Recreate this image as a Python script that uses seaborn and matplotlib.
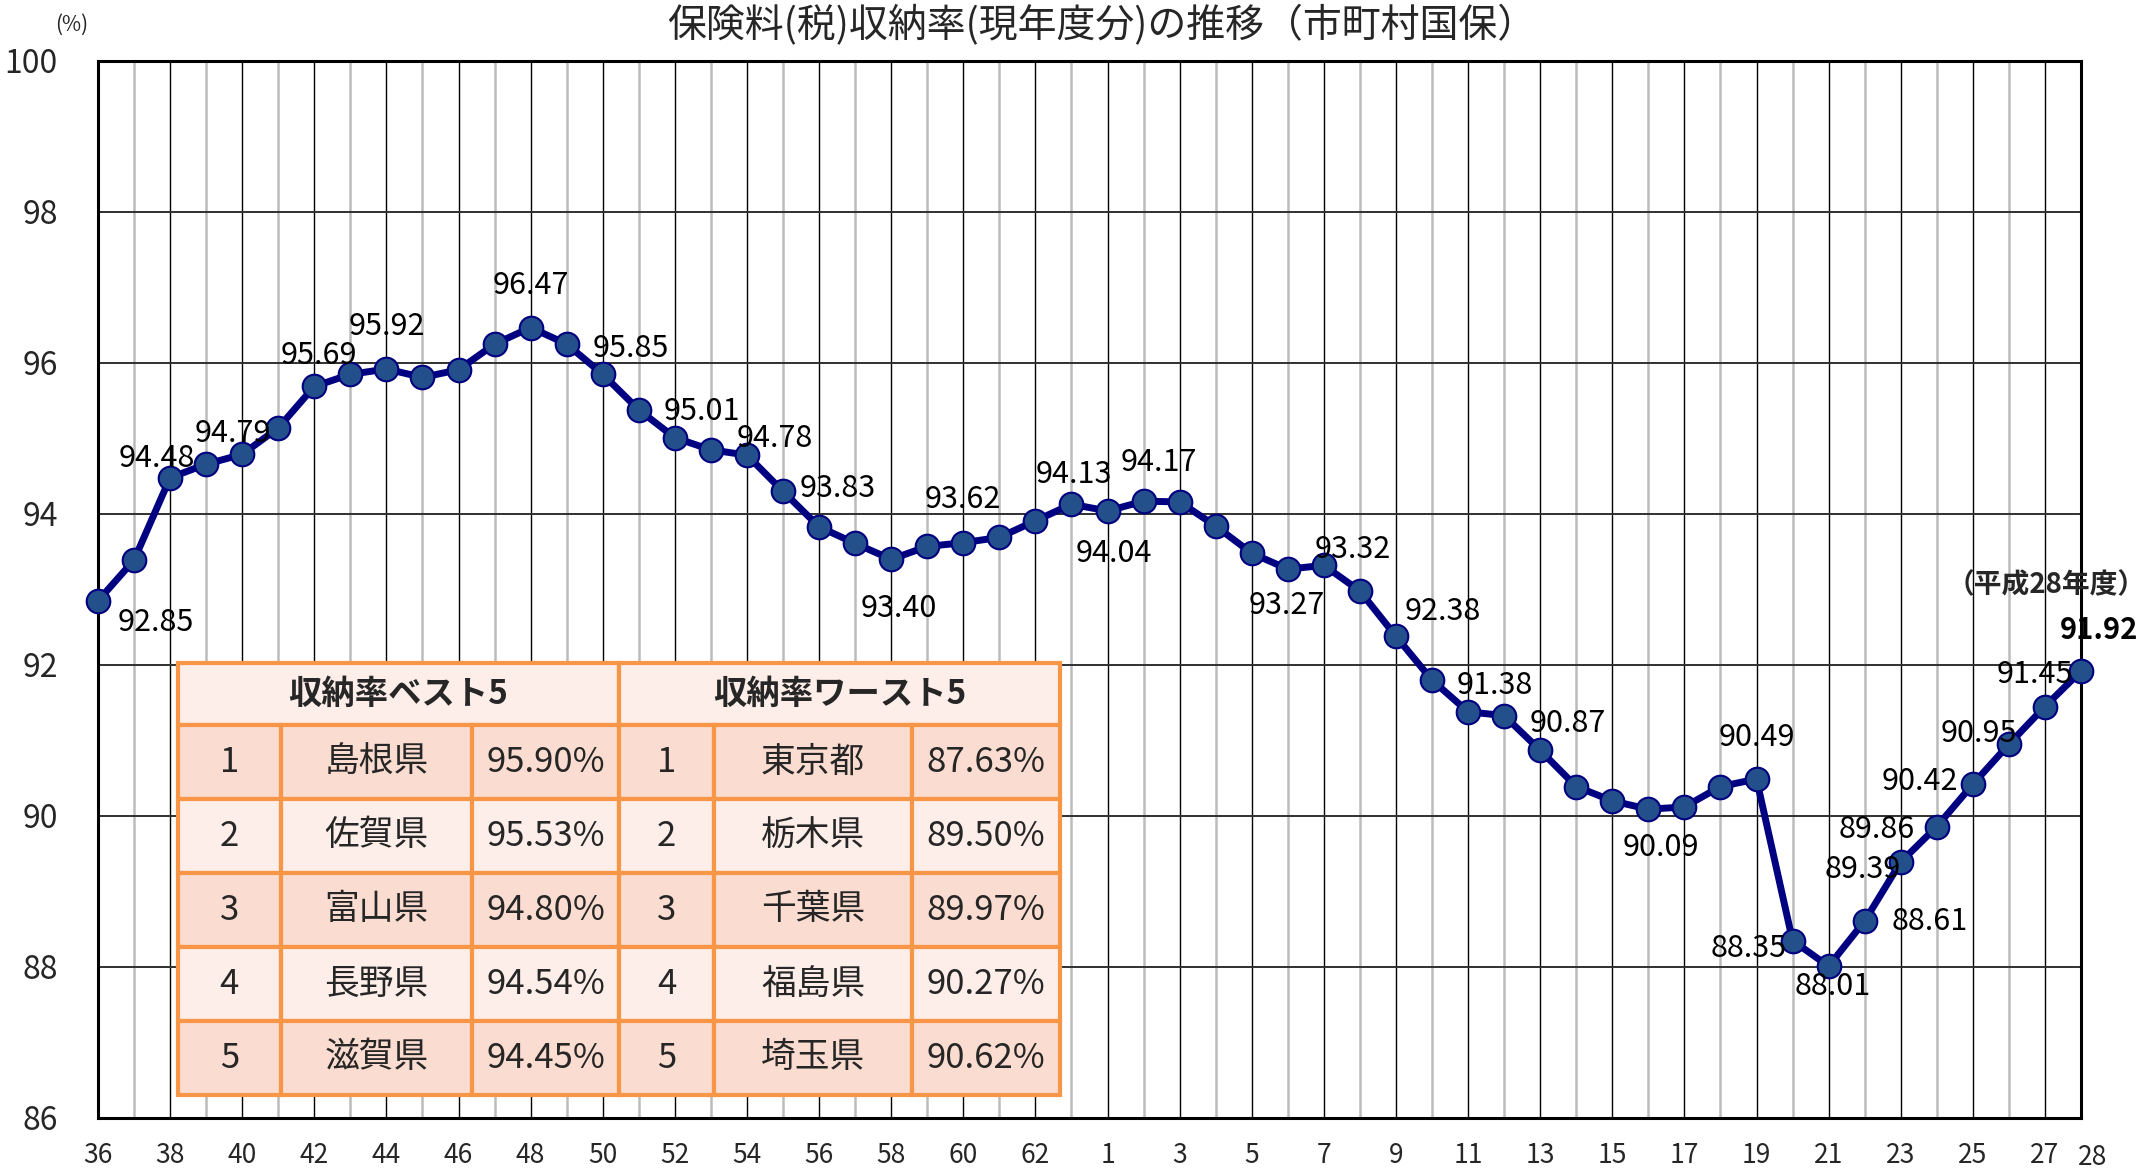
import matplotlib
matplotlib.use("Agg")
import matplotlib.pyplot as plt
import matplotlib.transforms as mtransforms
from matplotlib.patches import Rectangle
import seaborn as sns
import pandas as pd

# 昭和36年度〜63年度, 平成元年度〜28年度
showa_years = list(range(36, 64))
heisei_years = list(range(1, 29))
year_labels = [str(y) for y in showa_years + heisei_years]

# 収納率 (%)
rates = [
    92.85, 93.39, 94.48, 94.66, 94.79, 95.14, 95.69, 95.85, 95.92, 95.81,
    95.91, 96.25, 96.47, 96.25, 95.85, 95.38, 95.01, 94.85, 94.78, 94.30,
    93.83, 93.61, 93.40, 93.57, 93.62, 93.69, 93.91, 94.13, 94.04, 94.17,
    94.16, 93.84, 93.48, 93.27, 93.32, 92.98, 92.38, 91.80, 91.38, 91.33,
    90.87, 90.39, 90.20, 90.09, 90.12, 90.39, 90.49, 88.35, 88.01, 88.61,
    89.39, 89.86, 90.42, 90.95, 91.45, 91.92,
]

# which points get a value label, and where the label sits (pixels from the point)
label_offsets = {
    0: (58, -22), 2: (-13, 19), 4: (-9, 21), 6: (5, 31), 8: (0, 43),
    12: (0, 42), 14: (28, 26), 16: (27, 26), 18: (28, 17), 20: (19, 38),
    22: (8, -49), 24: (0, 43), 27: (2, 30), 28: (6, -43), 29: (15, 39),
    33: (-1, -36), 34: (29, 16), 36: (47, 25), 38: (27, 26), 40: (28, 27),
    43: (13, -38), 46: (0, 42), 47: (-44, -8), 48: (4, -20), 49: (65, -1),
    50: (-38, -7), 51: (-60, -3), 52: (-53, 3), 53: (-30, 11), 54: (-10, 32),
    55: (18, 41),
}

# best / worst 5 table
best_rank = ["1", "2", "3", "4", "5"]
best_pref = ["島根県", "佐賀県", "富山県", "長野県", "滋賀県"]
best_rate = ["95.90%", "95.53%", "94.80%", "94.54%", "94.45%"]
worst_rank = ["1", "2", "3", "4", "5"]
worst_pref = ["東京都", "栃木県", "千葉県", "福島県", "埼玉県"]
worst_rate = ["87.63%", "89.50%", "89.97%", "90.27%", "90.62%"]

sns.set_style("white")
plt.rcParams['font.family'] = ['Noto Sans CJK JP', 'DejaVu Sans']

df = pd.DataFrame({'idx': range(len(rates)), 'rate': rates})

fig = plt.figure(figsize=(21.47, 11.68), dpi=100)
ax = fig.add_axes([98 / 2147, 1 - 1118 / 1168, (2081 - 98) / 2147, (1118 - 61) / 1168])

n = len(rates)
ax.set_xlim(0, n - 1)
ax.set_ylim(86, 100)

major = [i for i in range(n) if i % 2 == 0] + [n - 1]
minor = [i for i in range(n) if i % 2 == 1 and i != n - 1]
ax.set_xticks(major)
ax.set_xticklabels([year_labels[i] for i in major])
ax.set_xticks(minor, minor=True)
ax.set_yticks(range(86, 101, 2))

ax.grid(which='major', axis='x', color='black', lw=1.0, zorder=0)
ax.grid(which='minor', axis='x', color='#bcbcbc', lw=1.8, zorder=0)
ax.grid(which='major', axis='y', color='#303030', lw=1.4, zorder=0)
ax.set_axisbelow(True)

ax.tick_params(axis='both', which='both', length=0)
ax.tick_params(axis='x', labelsize=19, pad=17)
ax.tick_params(axis='y', labelsize=23, pad=29)
for s in ax.spines.values():
    s.set_color('black')
    s.set_linewidth(2.2)

# nudge the last year label like the original
lbl = ax.get_xticklabels()[-1]
lbl.set_transform(lbl.get_transform() + mtransforms.ScaledTranslation(12 / 100, -2 / 100, fig.dpi_scale_trans))

sns.lineplot(data=df, x='idx', y='rate', ax=ax, color='#000080', lw=5,
             marker='o', markersize=17, markerfacecolor='#23508a',
             markeredgecolor='#000080', markeredgewidth=1.5, clip_on=False, zorder=5)
ax.set_xlabel('')
ax.set_ylabel('')

for i, (dx, dy) in label_offsets.items():
    bold = i == n - 1
    ax.annotate(f"{rates[i]:.2f}", (i, rates[i]), xytext=(dx, dy),
                textcoords='offset pixels', ha='center', va='center',
                fontsize=21 if bold else 22, fontweight='bold' if bold else 'normal',
                color='black', zorder=6, annotation_clip=False)

fig.text(2046 / 2147, 1 - 585 / 1168, "（平成28年度）", ha='center', va='center',
         fontsize=20, fontweight='bold')

# title and unit
fig.text(1102 / 2147, 1 - 26 / 1168, "保険料(税)収納率(現年度分)の推移（市町村国保）",
         ha='center', va='center', fontsize=28)
fig.text(72 / 2147, 1 - 25 / 1168, "(%)", ha='center', va='center', fontsize=15)

# table (axes fraction layout)
ax_w, ax_h = 2081 - 98, 1118 - 61
tx0 = (177.5 - 98) / ax_w
ty_top = (1118 - 663) / ax_h
head_h = 62 / ax_h
row_h = 74 / ax_h
col_w = [w / ax_w for w in [103.5, 191, 147, 95, 198, 148]]
border = '#f79646'
light = '#fdeee9'
dark = '#fbdcd0'

def cell(x, y, w, h, fc, text, size=25, bold=False):
    ax.add_patch(Rectangle((x, y), w, h, transform=ax.transAxes, facecolor=fc,
                           edgecolor=border, lw=3, zorder=7, clip_on=False))
    ax.text(x + w / 2, y + h / 2, text, transform=ax.transAxes, ha='center',
            va='center', fontsize=size, fontweight='bold' if bold else 'normal',
            zorder=8)

cell(tx0, ty_top - head_h, sum(col_w[:3]), head_h, light, "収納率ベスト5", size=24, bold=True)
cell(tx0 + sum(col_w[:3]), ty_top - head_h, sum(col_w[3:]), head_h, light, "収納率ワースト5", size=24, bold=True)
rows = list(zip(best_rank, best_pref, best_rate, worst_rank, worst_pref, worst_rate))
for r, row in enumerate(rows):
    y = ty_top - head_h - (r + 1) * row_h
    fc = dark if r % 2 == 0 else light
    x = tx0
    for c, txt in enumerate(row):
        cell(x, y, col_w[c], row_h, fc, txt)
        x += col_w[c]

fig.savefig("out.png", dpi=100)
